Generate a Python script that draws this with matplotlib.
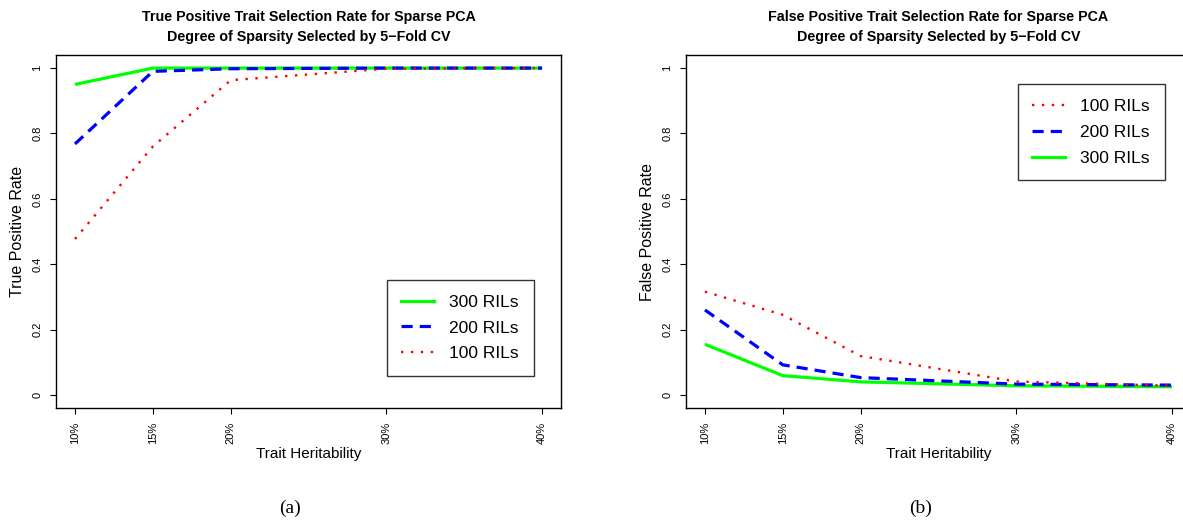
import numpy as np
import matplotlib
matplotlib.use('Agg')
import matplotlib.pyplot as plt
from matplotlib.lines import Line2D

# ---------------- data ----------------
heritability = [10, 15, 20, 30, 40]
tick_labels = ['10%', '15%', '20%', '30%', '40%']

tpr_100 = [0.477, 0.76, 0.963, 0.998, 1.0]
tpr_200 = [0.768, 0.99, 0.998, 1.0, 1.0]
tpr_300 = [0.95, 1.0, 1.0, 1.0, 1.0]

fpr_100 = [0.316, 0.245, 0.119, 0.041, 0.028]
fpr_200 = [0.26, 0.092, 0.053, 0.033, 0.030]
fpr_300 = [0.155, 0.059, 0.040, 0.028, 0.025]

SANS = ['Liberation Sans', 'DejaVu Sans']
SERIF = ['Liberation Serif', 'DejaVu Serif']

styles = {
    '300 RILs': dict(color='#00ff00', lw=2.3, ls='-'),
    '200 RILs': dict(color='#0000ff', lw=2.3, dashes=(3.5, 2.2)),
    '100 RILs': dict(color='#ff0000', lw=1.7, dashes=(1, 3.2)),
}


def draw_panel(ax, series, ylabel, title, legend_order, legend_loc, legend_anchor):
    # green first, red on top (as in the original)
    for name in ['300 RILs', '200 RILs', '100 RILs']:
        ax.plot(heritability, series[name], solid_capstyle='butt',
                dash_capstyle='butt', **styles[name])
    ax.set_xlim(8.8, 41.2)
    ax.set_ylim(-0.04, 1.04)
    ax.set_xticks(heritability)
    ax.set_xticklabels(tick_labels, rotation=90, fontsize=8, family=SANS)
    ax.set_yticks([0, 0.2, 0.4, 0.6, 0.8, 1.0])
    ax.set_yticklabels(['0', '0.2', '0.4', '0.6', '0.8', '1'], rotation=90,
                       va='center', fontsize=8, family=SANS)
    ax.tick_params(length=4, width=0.8, pad=6)
    for sp in ax.spines.values():
        sp.set_linewidth(1.0)
    ax.set_xlabel('Trait Heritability', family=SANS, fontsize=11, labelpad=2)
    ax.set_ylabel(ylabel, family=SANS, fontsize=11.5, labelpad=5)
    ax.set_title(title, family=SANS, fontweight='bold', fontsize=10.3,
                 pad=10, linespacing=1.6)

    handles = [Line2D([], [], **styles[n]) for n in legend_order]
    leg = ax.legend(handles, legend_order, loc=legend_loc,
                    bbox_to_anchor=legend_anchor, frameon=True,
                    fancybox=False, edgecolor='black', handlelength=1.9,
                    handletextpad=0.85, borderpad=0.85, labelspacing=0.62,
                    prop={'family': SANS, 'size': 12.5}, borderaxespad=0)
    leg.get_frame().set_linewidth(1.0)
    return leg


fig = plt.figure(figsize=(11.83, 5.21), dpi=100)
ax1 = fig.add_axes([0.0476, 0.2169, 0.4264, 0.6775])
ax2 = fig.add_axes([0.5801, 0.2169, 0.4264, 0.6775])

draw_panel(ax1, {'100 RILs': tpr_100, '200 RILs': tpr_200, '300 RILs': tpr_300},
           'True Positive Rate',
           'True Positive Trait Selection Rate for Sparse PCA\nDegree of Sparsity Selected by 5\u2212Fold CV',
           ['300 RILs', '200 RILs', '100 RILs'], 'lower left', (0.655, 0.09))
draw_panel(ax2, {'100 RILs': fpr_100, '200 RILs': fpr_200, '300 RILs': fpr_300},
           'False Positive Rate',
           'False Positive Trait Selection Rate for Sparse PCA\nDegree of Sparsity Selected by 5\u2212Fold CV',
           ['100 RILs', '200 RILs', '300 RILs'], 'upper left', (0.657, 0.918))

fig.text(290 / 1183, 1 - 508 / 521, '(a)', family=SERIF, fontsize=14,
         ha='center', va='center')
fig.text(921 / 1183, 1 - 508 / 521, '(b)', family=SERIF, fontsize=14,
         ha='center', va='center')

fig.savefig('out.png', dpi=100)
